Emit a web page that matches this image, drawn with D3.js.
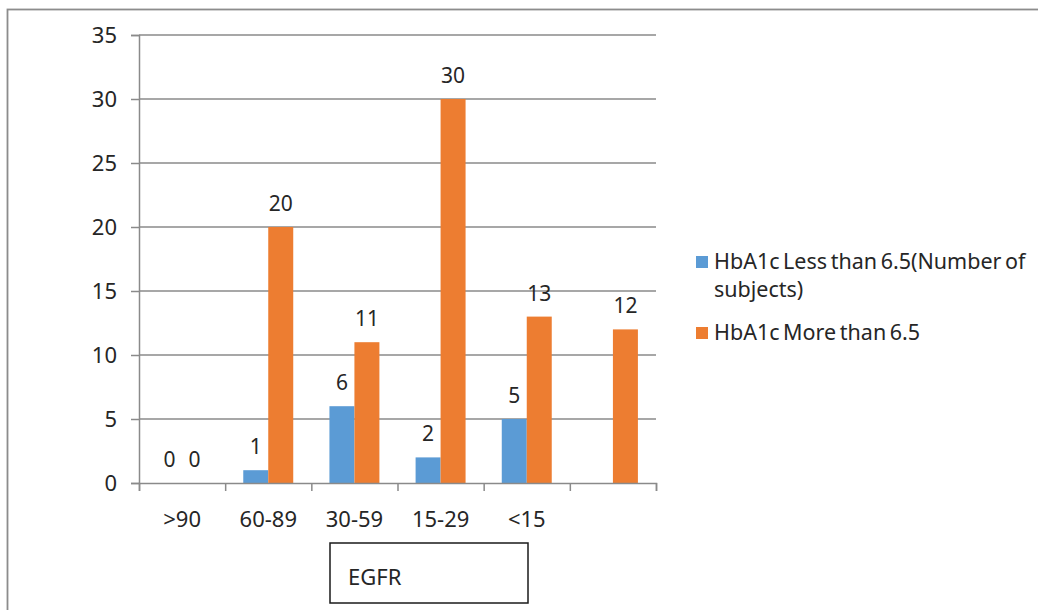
<!DOCTYPE html>
<html>
<head>
<meta charset="utf-8">
<script src="https://cdn.jsdelivr.net/npm/d3@7"></script>
<style>
  html, body { margin: 0; padding: 0; background: #fff; }
  svg { display: block; }
  text { font-family: "Noto Sans", sans-serif; fill: #262626; }
</style>
</head>
<body>
<svg id="chart" width="1038" height="610"></svg>
<script>
const categories = [">90", "60-89", "30-59", "15-29", "<15", ""];
const seriesNames = ["HbA1c Less than 6.5(Number of subjects)", "HbA1c More than 6.5"];
const lessValues = [0, 1, 6, 2, 5, null];
const moreValues = [0, 20, 11, 30, 13, 12];
const yTicks = [0, 5, 10, 15, 20, 25, 30, 35];
const axisTitle = "EGFR";
const colors = ["#5b9bd5", "#ed7d31"];

const svg = d3.select("#chart");
const W = 1038, H = 610;
const plot = { left: 139, right: 656, top: 35, bottom: 483 };

// outer frame
svg.append("rect").attr("x", 7.5).attr("y", 9.5).attr("width", W + 20).attr("height", H + 20)
  .attr("fill", "none").attr("stroke", "#8c8c8c").attr("stroke-width", 1.8);

const y = d3.scaleLinear().domain([0, 35]).range([plot.bottom, plot.top]);
const x0 = d3.scaleBand().domain(categories).range([plot.left, plot.right]).padding(0);
const bw = x0.bandwidth();
const x1 = d3.scaleBand().domain([0, 1]).range([bw * 0.21, bw * 0.79]).padding(0);

// gridlines
svg.append("g").selectAll("line").data(yTicks.filter(t => t > 0)).join("line")
  .attr("x1", plot.left).attr("x2", plot.right)
  .attr("y1", d => y(d)).attr("y2", d => y(d))
  .attr("stroke", "#8a8a8a").attr("stroke-width", 1.5);

// y axis
const yAxis = svg.append("g").attr("transform", `translate(${plot.left},0)`)
  .call(d3.axisLeft(y).tickValues(yTicks).tickSize(8).tickPadding(14));
yAxis.select(".domain").attr("stroke", "#8a8a8a").attr("stroke-width", 1.5);
yAxis.selectAll(".tick line").attr("stroke", "#8a8a8a").attr("stroke-width", 1.5);
yAxis.selectAll("text").style("font-size", "22px").attr("fill", "#262626")
  .style("font-family", "'Noto Sans', sans-serif");

// bars
const rows = categories.map((c, i) => ({ cat: c, vals: [lessValues[i], moreValues[i]] }));
const groups = svg.append("g").selectAll("g").data(rows).join("g")
  .attr("transform", d => `translate(${x0(d.cat)},0)`);
groups.selectAll("rect").data(d => d.vals.map((v, s) => ({ v, s })).filter(e => e.v !== null))
  .join("rect")
  .attr("x", d => x1(d.s)).attr("width", x1.bandwidth())
  .attr("y", d => y(d.v)).attr("height", d => y(0) - y(d.v))
  .attr("fill", d => colors[d.s]);
groups.selectAll("text").data(d => d.vals.map((v, s) => ({ v, s })).filter(e => e.v !== null))
  .join("text")
  .attr("x", d => x1(d.s) + x1.bandwidth() / 2)
  .attr("y", d => y(d.v) - 16)
  .attr("text-anchor", "middle")
  .style("font-size", "21px")
  .text(d => d.v);

// x axis
const xb = d3.scaleLinear().domain([0, categories.length]).range([plot.left, plot.right]);
const xAxis = svg.append("g").attr("transform", `translate(0,${plot.bottom})`)
  .call(d3.axisBottom(xb).tickValues(d3.range(categories.length + 1)).tickSize(8).tickFormat(""));
xAxis.select(".domain").attr("stroke", "#8a8a8a").attr("stroke-width", 1.5);
xAxis.selectAll(".tick line").attr("stroke", "#8a8a8a").attr("stroke-width", 1.5);
const xLab = svg.append("g").attr("transform", `translate(0,${plot.bottom})`)
  .call(d3.axisBottom(x0).tickSize(0).tickPadding(28));
xLab.select(".domain").remove();
xLab.selectAll("text").style("font-size", "22px").attr("fill", "#262626")
  .style("font-family", "'Noto Sans', sans-serif");

// axis title box
svg.append("rect").attr("x", 330).attr("y", 543).attr("width", 198).attr("height", 60)
  .attr("fill", "#fff").attr("stroke", "#1a1a1a").attr("stroke-width", 1.5);
svg.append("text").attr("x", 348).attr("y", 585).style("font-size", "22px").text(axisTitle);

// legend
const legend = svg.append("g");
const legItems = [
  { lines: ["HbA1c Less than 6.5(Number of", "subjects)"], y: 262 },
  { lines: ["HbA1c More than 6.5"], y: 333 }
];
legItems.forEach((it, i) => {
  legend.append("rect").attr("x", 696).attr("y", it.y - 6).attr("width", 12).attr("height", 12)
    .attr("fill", colors[i]);
  const t = legend.append("text").attr("x", 714).attr("y", it.y + 7)
    .style("font-size", "21.5px").style("word-spacing", "-2px");
  it.lines.forEach((l, k) => t.append("tspan").attr("x", 714).attr("dy", k === 0 ? 0 : 28).text(l));
});
</script>
</body>
</html>
